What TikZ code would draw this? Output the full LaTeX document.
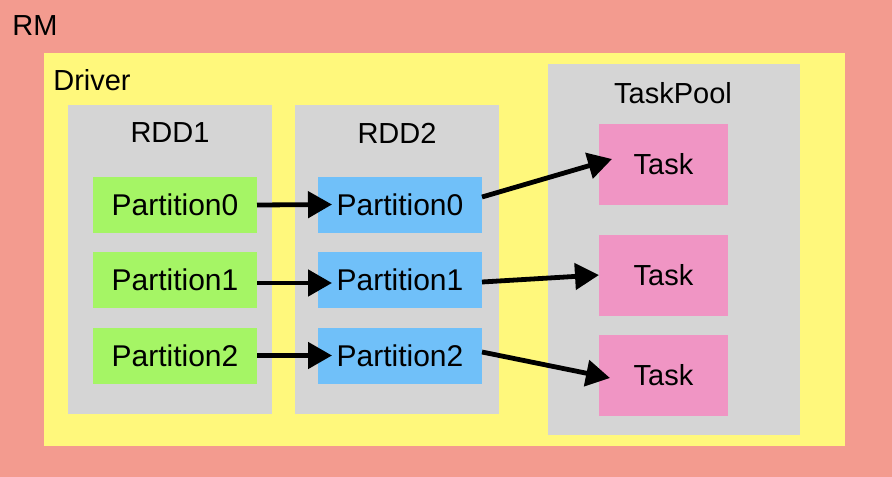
\documentclass[tikz,border=0pt]{standalone}
\usepackage{fontspec}
\setmainfont{Liberation Sans}
\usepackage{xcolor}
\usepackage{tikz}
\usetikzlibrary{arrows.meta,positioning}
\definecolor{rmSalmon}{HTML}{F39B8F}
\definecolor{driverYellow}{HTML}{FFF87C}
\definecolor{poolGray}{HTML}{D5D5D5}
\definecolor{partGreen}{HTML}{A5F565}
\definecolor{partBlue}{HTML}{70C0F9}
\definecolor{taskPink}{HTML}{F095C4}

\begin{document}
\begin{tikzpicture}[
    x=0.5pt, y=-0.5pt,
    frame/.style={rectangle, inner sep=0pt, outer sep=0pt},
    rmbox/.style={frame, fill=rmSalmon, minimum width=450pt, minimum height=242pt},
    driverbox/.style={frame, fill=driverYellow, minimum width=400.5pt, minimum height=196.5pt},
    rddbox/.style={frame, fill=poolGray, minimum width=102pt, minimum height=154.5pt},
    poolbox/.style={frame, fill=poolGray, minimum width=126pt, minimum height=185.5pt},
    srcpart/.style={frame, fill=partGreen, minimum width=82pt, minimum height=28pt, font=\fontsize{15}{18}\selectfont},
    dstpart/.style={frame, fill=partBlue, minimum width=82pt, minimum height=28pt, font=\fontsize{15}{18}\selectfont},
    taskbox/.style={frame, fill=taskPink, minimum width=64.5pt, minimum height=40.5pt, font=\fontsize{14.5}{17}\selectfont},
    title/.style={inner sep=0pt, font=\fontsize{14.5}{17}\selectfont},
    line/.style={draw=black, line width=2.4pt, -{Triangle[length=12pt,width=13pt]}}
]
\useasboundingbox (0,0) rectangle (892,476);

% Containers
\node[rmbox] (rm) at (446,238) {};
\node[title] (rmlabel) at (35,26) {RM};
\node[driverbox] (driver) at (444.5,249.5) {};
\node[title] (driverlabel) at (92,80) {Driver};
\node[rddbox] (rdd1) at (170,259.5) {};
\node[title] (rdd1label) at (170,133) {RDD1};
\node[rddbox] (rdd2) at (396.5,259.5) {};
\node[title] (rdd2label) at (397,133) {RDD2};
\node[poolbox] (pool) at (674,249.5) {};
\node[title] (poollabel) at (673,93) {TaskPool};

% Partitions
\node[srcpart] (g0) at (175,205) {Partition0};
\node[srcpart] (g1) at (175,280) {Partition1};
\node[srcpart] (g2) at (175,355.5) {Partition2};
\node[dstpart] (b0) at (400,204.5) {Partition0};
\node[dstpart] (b1) at (400,280) {Partition1};
\node[dstpart] (b2) at (400,355.5) {Partition2};

% Tasks
\node[taskbox] (t0) at (663.5,164.5) {Task};
\node[taskbox] (t1) at (663.5,275) {Task};
\node[taskbox] (t2) at (663.5,375) {Task};

% Connections
\draw[line] (g0.east) -- ([xshift=7pt]b0.west);
\draw[line] ([yshift=-1.5pt]g1.east) -- ([xshift=7pt,yshift=-1.5pt]b1.west);
\draw[line] (g2.east) -- ([xshift=7pt]b2.west);
\draw[line] ([yshift=3.75pt]b0.east) -- ([xshift=6.5pt,yshift=2.75pt]t0.west);
\draw[line] ([yshift=-1pt]b1.east) -- (t1.west);
\draw[line] ([yshift=1.75pt]b2.east) -- ([xshift=5.5pt,yshift=-1.5pt]t2.west);

\end{tikzpicture}
\end{document}
